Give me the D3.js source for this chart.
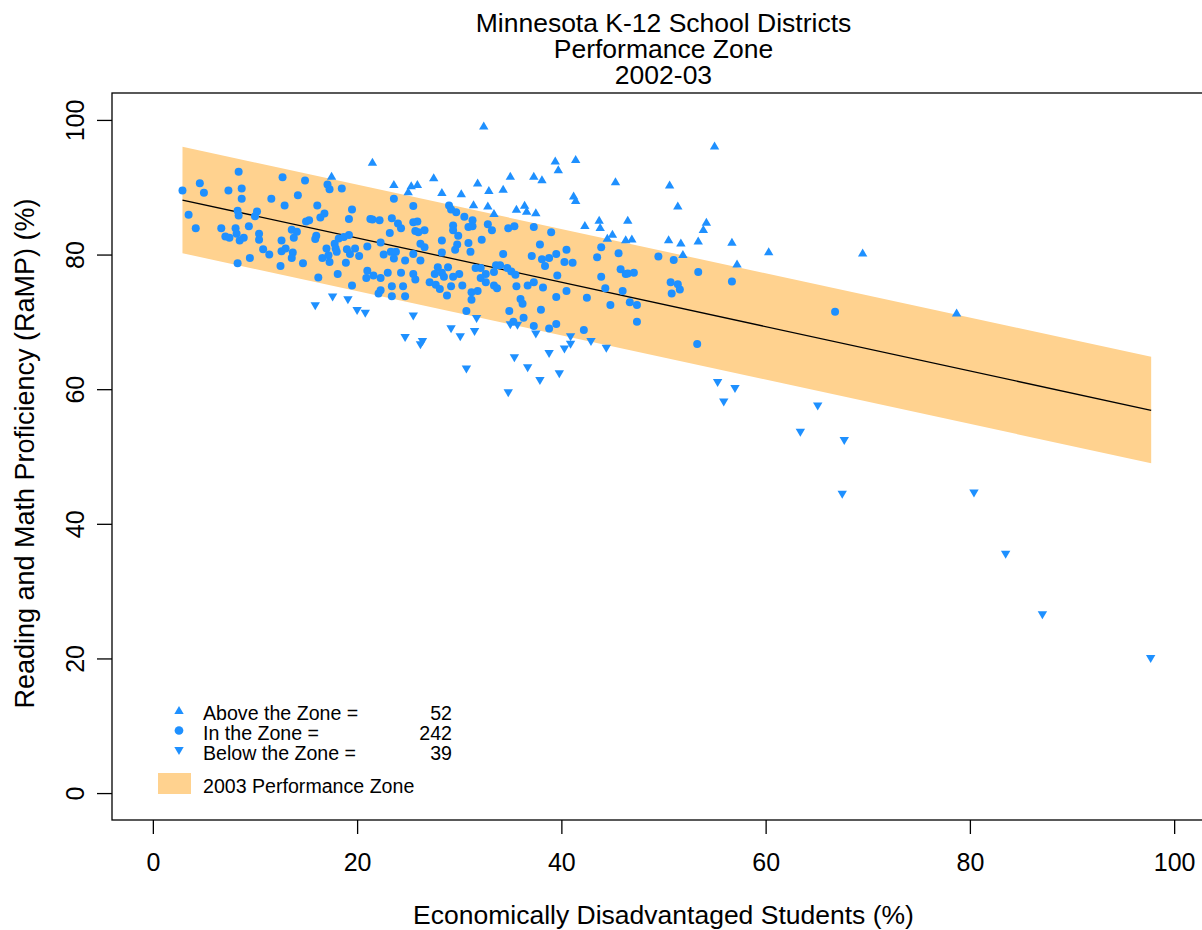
<!DOCTYPE html>
<html>
<head>
<meta charset="utf-8">
<script src="https://cdn.jsdelivr.net/npm/d3@7"></script>
<style>
  body { margin: 0; background: #fff; }
  svg { display: block; font-family: "Liberation Sans", Arial, sans-serif; }
</style>
</head>
<body>
<div id="chart"></div>
<script>
// districts inside the performance zone [econ. disadvantaged %, RaMP %]
const inZone = [
  [2.9,89.5],[4.6,90.6],[5.0,89.2],[8.4,92.3],[8.7,89.8],[8.7,88.3],[7.4,89.5],[12.7,91.5],[14.9,91.0],[11.6,88.3],
  [14.2,88.8],[12.9,87.3],[17.1,90.4],[17.3,89.7],[18.5,89.8],[16.1,87.3],[3.5,85.9],[4.2,83.9],[8.3,86.5],[8.4,85.8],
  [10.2,86.4],[10.0,85.7],[9.4,84.2],[6.7,83.9],[8.1,83.9],[8.2,83.1],[7.1,82.7],[7.5,82.5],[8.5,82.1],[8.9,82.5],
  [10.4,83.1],[10.4,82.2],[10.8,80.8],[11.4,80.0],[9.5,79.5],[8.3,78.7],[12.6,82.1],[12.6,80.5],[13.0,80.9],[13.6,83.7],
  [14.1,83.4],[13.8,82.5],[13.7,80.3],[13.6,79.5],[14.7,78.7],[15.0,84.9],[15.3,85.1],[16.4,85.5],[16.8,86.1],[16.0,82.8],
  [15.9,82.3],[19.2,85.3],[19.5,86.7],[21.3,85.3],[17.8,81.6],[18.2,82.4],[18.7,82.6],[19.2,82.9],[17.9,80.9],[18.0,80.4],
  [19.0,80.8],[19.8,80.9],[19.3,80.1],[20.2,79.8],[21.0,81.2],[16.6,79.5],[17.2,79.9],[17.3,78.9],[18.9,78.8],[17.0,80.9],
  [12.5,78.3],[16.2,76.6],[18.1,77.1],[19.5,75.4],[21.0,77.6],[20.9,76.5],
  [23.6,88.3],[25.5,87.2],[29.0,87.3],[29.2,86.7],[29.7,86.3],[30.5,85.6],[31.3,85.1],[21.5,85.2],[22.2,85.1],[23.4,85.4],
  [24.0,84.6],[24.3,83.9],[23.2,83.2],[25.5,84.8],[25.9,84.9],[25.7,83.5],[26.0,83.3],[26.6,83.6],[29.4,84.3],[29.4,83.6],
  [29.9,82.8],[30.9,84.1],[31.3,84.2],[32.8,84.5],[33.2,83.6],[34.8,83.9],[35.4,84.2],[37.3,84.1],[39.0,83.3],[22.3,81.8],
  [26.2,81.6],[26.6,81.1],[28.3,82.1],[29.8,81.5],[29.6,80.7],[30.9,81.7],[31.1,80.4],[32.2,82.2],[34.3,80.1],[37.9,81.5],
  [37.1,79.8],[38.1,79.3],[38.8,79.5],[39.5,80.1],[22.6,80.0],[23.3,80.4],[23.8,80.4],[23.6,79.4],[24.7,79.1],[25.5,80.1],
  [26.2,79.1],[28.3,80.3],
  [21.6,76.9],[22.3,76.5],[23.0,77.3],[24.3,77.3],[25.5,77.1],[25.7,76.3],[23.4,75.3],[24.5,75.3],[22.3,74.7],[22.1,74.2],
  [23.4,73.8],[24.7,73.8],[27.1,75.9],[27.6,77.1],[27.9,78.1],[28.3,77.3],[28.5,76.7],[28.9,78.1],[29.4,76.7],[30.0,77.1],
  [27.7,75.5],[28.1,74.9],[28.8,73.9],[29.2,75.3],[30.3,75.4],[31.6,78.0],[32.1,78.0],[32.6,77.1],[32.1,76.5],[32.6,75.9],
  [33.4,77.4],[33.6,78.4],[34.0,78.4],[33.4,75.4],[33.7,75.0],[34.7,78.0],[35.1,77.5],[35.5,77.0],[35.6,75.3],[36.7,75.4],
  [37.3,75.9],[38.2,75.1],[38.4,78.3],[39.6,76.9],[31.2,74.4],[31.8,74.6],[31.2,73.3],[36.0,73.4],[36.2,72.7],[30.7,71.6],
  [34.9,71.6],[38.0,71.8],[36.3,70.6],[35.3,70.0],[37.3,69.4],[38.8,69.0],[39.5,69.7],
  [40.5,80.7],[43.9,81.1],[45.6,80.2],[43.5,79.6],[40.3,78.9],[41.1,78.8],[49.5,79.7],[51.0,79.2],
  [43.9,76.7],[45.8,77.8],[46.3,77.1],[46.5,77.2],[47.1,77.3],[44.3,75.0],[46.0,74.6],[40.5,74.6],[39.5,73.7],[42.5,73.6],
  [46.7,72.9],[47.4,72.5],[44.8,72.5],[53.4,77.4],[50.7,75.9],[51.4,75.6],[51.6,74.8],[50.8,74.2],[56.7,76.0],[47.4,70.0],
  [42.2,68.8],[53.3,66.7],[66.8,71.5]
];

// districts above the zone
const aboveZone = [
  [17.5,91.6],[32.4,99.1],[21.5,93.7],[39.4,93.9],[39.7,92.6],[27.5,91.4],[35.0,91.6],[37.3,91.6],[38.1,91.1],[23.6,90.4],
  [25.3,90.2],[25.9,90.4],[25.0,89.3],[28.3,89.2],[30.2,89.0],[31.8,90.6],[32.9,89.5],[34.3,89.7],[31.4,87.4],[32.8,87.2],
  [33.4,86.1],[35.6,86.7],[36.4,87.3],[36.6,86.4],[37.5,86.2],[41.4,94.1],[55.0,96.1],[45.3,90.8],[50.6,90.3],[41.2,88.7],
  [41.4,88.0],[51.4,87.2],[42.3,84.3],[43.7,85.1],[43.8,84.0],[46.5,85.1],[45.0,83.0],[44.5,82.4],[46.3,82.2],[46.9,82.3],
  [50.5,82.2],[51.7,81.7],[53.4,82.0],[54.2,84.8],[53.9,83.7],[56.7,81.8],[51.9,80.0],[57.2,78.6],[60.3,80.4],[69.5,80.2],
  [78.7,71.3]
];

// districts below the zone
const belowZone = [
  [15.9,72.4],[17.6,73.7],[19.1,73.3],[20.0,71.7],[20.8,71.3],[25.5,70.9],[31.7,70.5],[29.2,69.0],[31.5,68.6],[30.1,67.8],
  [24.7,67.7],[26.4,67.1],[26.2,66.6],[35.0,69.6],[35.7,69.5],[37.5,68.2],[35.4,64.7],[38.8,65.3],[36.7,63.2],[30.7,63.0],
  [37.9,61.3],[34.8,59.5],[39.8,62.3],[40.9,67.8],[40.9,66.7],[40.3,66.0],[42.9,67.1],[44.4,66.1],[55.3,61.0],[57.0,60.1],
  [55.9,58.1],[65.1,57.5],[63.4,53.6],[67.7,52.4],[67.5,44.4],[80.4,44.6],[83.5,35.5],[87.1,26.5],[97.7,20.0]
];

// 2003 performance zone: expected line and band edges
const zoneX = [2.9, 97.75];
const zoneMid = [88.1, 56.86];
const zoneUpper = [96.0, 64.8];
const zoneLower = [80.2, 49.0];

const xTicks = [0, 20, 40, 60, 80, 100];
const yTicks = [0, 20, 40, 60, 80, 100];
const titleLines = ['Minnesota K-12 School Districts', 'Performance Zone', '2002-03'];
const legendRows = [
  { label: 'Above the Zone =', count: 52, shape: 'up' },
  { label: 'In the Zone =', count: 242, shape: 'circle' },
  { label: 'Below the Zone =', count: 39, shape: 'down' }
];

const width = 1202, height = 930;
const box = { left: 112, top: 93, right: 1215, bottom: 820 };
const blue = '#1E90FF';
const bandColor = '#FFD28F';

const svg = d3.select('#chart').append('svg')
  .attr('width', width)
  .attr('height', height);

const x = d3.scaleLinear().domain([-4, 104]).range([box.left, box.right]);
const y = d3.scaleLinear().domain([-4, 104]).range([box.bottom, box.top]);

// performance band
const band = zoneX.map((v, i) => ({ x: v, lo: zoneLower[i], hi: zoneUpper[i] }));
svg.append('path')
  .datum(band)
  .attr('fill', bandColor)
  .attr('d', d3.area().x(d => x(d.x)).y0(d => y(d.lo)).y1(d => y(d.hi)));

// expected line
svg.append('path')
  .datum(zoneX.map((v, i) => [v, zoneMid[i]]))
  .attr('fill', 'none')
  .attr('stroke', '#000')
  .attr('stroke-width', 1.3)
  .attr('d', d3.line().x(d => x(d[0])).y(d => y(d[1])));

const triUp = 'M0,-4.6L4.7,3.4L-4.7,3.4Z';
const triDown = 'M0,4.6L4.7,-3.4L-4.7,-3.4Z';

svg.append('g').selectAll('circle')
  .data(inZone)
  .join('circle')
  .attr('cx', d => x(d[0]))
  .attr('cy', d => y(d[1]))
  .attr('r', 4)
  .attr('fill', blue);

svg.append('g').selectAll('path')
  .data(aboveZone)
  .join('path')
  .attr('d', triUp)
  .attr('transform', d => `translate(${x(d[0])},${y(d[1])})`)
  .attr('fill', blue);

svg.append('g').selectAll('path')
  .data(belowZone)
  .join('path')
  .attr('d', triDown)
  .attr('transform', d => `translate(${x(d[0])},${y(d[1])})`)
  .attr('fill', blue);

// frame
svg.append('rect')
  .attr('x', box.left)
  .attr('y', box.top)
  .attr('width', box.right - box.left)
  .attr('height', box.bottom - box.top)
  .attr('fill', 'none')
  .attr('stroke', '#000')
  .attr('stroke-width', 1.3);

// axes
const xAxis = svg.append('g')
  .attr('transform', `translate(0,${box.bottom})`)
  .call(d3.axisBottom(x).tickValues(xTicks).tickSize(14).tickPadding(12));
const yAxis = svg.append('g')
  .attr('transform', `translate(${box.left},0)`)
  .call(d3.axisLeft(y).tickValues(yTicks).tickSize(15));

[xAxis, yAxis].forEach(g => {
  g.select('.domain').remove();
  g.selectAll('.tick line').attr('stroke', '#000').attr('stroke-width', 1.3);
  g.selectAll('.tick text').attr('fill', '#000').style('font-size', '25px')
    .style('font-family', '"Liberation Sans", Arial, sans-serif');
});
xAxis.selectAll('.tick text').attr('dy', null).attr('y', 51);
yAxis.selectAll('.tick text')
  .attr('x', null).attr('dy', null)
  .attr('text-anchor', 'middle')
  .attr('transform', 'translate(-28,0) rotate(-90)')
  .attr('y', 0);

// titles
svg.append('g').selectAll('text')
  .data(titleLines)
  .join('text')
  .attr('x', (box.left + box.right) / 2)
  .attr('y', (d, i) => 32 + i * 26)
  .attr('text-anchor', 'middle')
  .style('font-size', '26.5px')
  .text(d => d);

svg.append('text')
  .attr('x', (box.left + box.right) / 2)
  .attr('y', 924)
  .attr('text-anchor', 'middle')
  .style('font-size', '26.5px')
  .text('Economically Disadvantaged Students (%)');

svg.append('text')
  .attr('transform', `translate(34,${(box.top + box.bottom) / 2 - 3}) rotate(-90)`)
  .attr('text-anchor', 'middle')
  .style('font-size', '27px')
  .text('Reading and Math Proficiency (RaMP) (%)');

// legend
const legend = svg.append('g');
const rows = legend.selectAll('g')
  .data(legendRows)
  .join('g')
  .attr('transform', (d, i) => `translate(179,${710.5 + i * 20})`);

rows.append('path')
  .attr('d', d => d.shape === 'up' ? triUp : d.shape === 'down' ? triDown : d3.symbol(d3.symbolCircle, 60)())
  .attr('fill', blue);
rows.append('text')
  .attr('x', 24)
  .attr('y', 9)
  .style('font-size', '19.6px')
  .text(d => d.label);
rows.append('text')
  .attr('x', 273)
  .attr('y', 9)
  .attr('text-anchor', 'end')
  .style('font-size', '19.6px')
  .text(d => d.count);

legend.append('rect')
  .attr('x', 158).attr('y', 773)
  .attr('width', 33).attr('height', 21)
  .attr('fill', bandColor);
legend.append('text')
  .attr('x', 203).attr('y', 793)
  .style('font-size', '19.6px')
  .text('2003 Performance Zone');
</script>
</body>
</html>
